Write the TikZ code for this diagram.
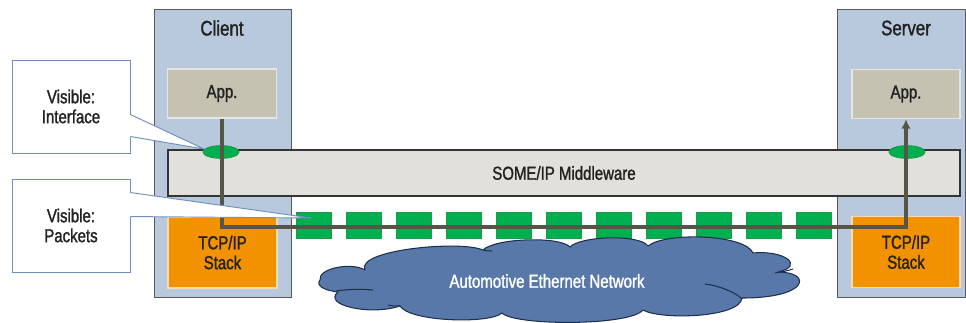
\documentclass[tikz,border=0pt]{standalone}
\usepackage{fontspec}
\setmainfont{Liberation Sans}[FakeStretch=0.8, FakeBold=1.4]
\usepackage{tikz}
\usetikzlibrary{arrows.meta, positioning, shapes.geometric, shadows, calc}

\definecolor{colfill}{HTML}{B8C9DD}
\definecolor{appfill}{HTML}{C5C2B2}
\definecolor{mwfill}{HTML}{E2E0DA}
\definecolor{tcpfill}{HTML}{F39200}
\definecolor{pktgreen}{HTML}{00B050}
\definecolor{pktedge}{HTML}{1E9A45}
\definecolor{netfill}{HTML}{5878AA}
\definecolor{netedge}{HTML}{1F2F4A}
\definecolor{flowline}{HTML}{565647}
\definecolor{calledge}{HTML}{6F8FBF}
\definecolor{txt}{HTML}{222222}

\begin{document}
\begin{tikzpicture}[
  x=0.03cm, y=-0.03cm,
  every node/.style={text=txt, font=\fontsize{16}{17}\selectfont, align=center},
  column/.style={draw=black!65, line width=0.8pt, fill=colfill, minimum height=8.64cm},
  appbox/.style={draw=white!90!black, line width=1.2pt, fill=appfill,
                 minimum width=3.27cm, minimum height=1.47cm},
  stackbox/.style={draw=orange!30, line width=1.2pt, fill=tcpfill,
                   minimum width=3.27cm, minimum height=2.13cm},
  port/.style={ellipse, draw=pktedge, line width=0.8pt, fill=pktgreen,
               minimum width=1.08cm, minimum height=0.38cm, inner sep=0pt},
  packet/.style={draw=pktedge, line width=0.6pt, fill=pktgreen,
                 minimum width=1.05cm, minimum height=0.78cm, inner sep=0pt},
  callbox/.style={draw=calledge, line width=0.8pt, fill=white,
                  minimum width=3.54cm, minimum height=2.79cm,
                  drop shadow={shadow xshift=1.2pt, shadow yshift=-1.2pt, opacity=0.25}},
  pointer/.style={draw=calledge, line width=0.8pt, line join=miter},
  puffline/.style={draw=netedge, line width=0.9pt}
]
  \useasboundingbox (0,0) rectangle (966,322);

  % client and server columns
  \node[column, minimum width=4.11cm] (client) at (222.5,153) {};
  \node[column, minimum width=3.84cm] (server) at (901.5,153) {};
  \node[font=\fontsize{18}{20}\selectfont] (clientlbl) at (222,28) {Client};
  \node[font=\fontsize{18}{20}\selectfont] (serverlbl) at (906,28) {Server};

  % application and stack layers
  \node[appbox] (capp) at (222,93.5) {App.};
  \node[appbox, minimum width=3.24cm] (sapp) at (906,94) {App.};
  \node[stackbox] (ctcp) at (222.5,252.5) {TCP/IP\\Stack};
  \node[stackbox, minimum width=3.24cm] (stcp) at (906,252) {TCP/IP\\Stack};

  % middleware spanning both ends
  \node[draw=black!80, line width=1pt, fill=mwfill,
        minimum width=23.76cm, minimum height=1.38cm] (mw) at (564,173) {SOME/IP Middleware};
  \node[port] (cport) at (221,152) {};
  \node[port] (sport) at (907,152) {};

  % packets on the wire
  \foreach \i in {0,...,10}
    \node[packet] (pkt\i) at (313.5+50*\i,225) {};

  % network cloud, puff by puff
  \filldraw[puffline, fill=netfill, line join=round]
    (320,280) .. controls (318,268) and (352,262) .. (365,270)
    .. controls (355,250) and (460,240) .. (483,250)
    .. controls (495,238) and (560,236) .. (570,247)
    .. controls (580,236) and (640,234) .. (648,246)
    .. controls (665,232) and (745,234) .. (753,253)
    .. controls (785,250) and (805,266) .. (778,272)
    .. controls (812,272) and (810,298) .. (742,298)
    .. controls (740,318) and (660,320) .. (643,310)
    .. controls (630,326) and (515,326) .. (502,313)
    .. controls (490,324) and (410,322) .. (400,306)
    .. controls (370,316) and (322,305) .. (338,292)
    .. controls (322,290) and (316,285) .. (320,280) -- cycle;
  \draw[puffline] (336,291) .. controls (350,289) and (362,289) .. (373,290);
  \draw[puffline] (388,305) .. controls (392,306) and (396,306) .. (400,306);
  \draw[puffline] (705,284) .. controls (720,286) and (735,292) .. (742,299);
  \draw[puffline] (775,273) .. controls (781,272) and (787,271) .. (793,269);
  \draw[puffline] (483,250) .. controls (486,251) and (489,251) .. (492,251);
  \node[text=white] (netlbl) at (547,281) {Automotive Ethernet Network};

  % data path from client app to server app
  \coordinate (lane) at (564,227);
  \draw[flowline, line width=2.6pt, -{Latex[length=8pt,width=8pt]}]
    (capp.south) |- (lane) -| (sapp.south);

  % callouts
  \node[callbox] (ifc) at (71,106.5) {Visible:\\Interface};
  \coordinate (ifctip) at (204,149);
  \fill[white] ($(ifc.north east)+(-1,55)$) -- (ifctip) -- ($(ifc.north east)+(-1,77)$) -- cycle;
  \draw[pointer] ($(ifc.north east)+(0,55)$) -- (ifctip) -- ($(ifc.north east)+(0,77)$);

  \node[callbox] (pkv) at (71,225.5) {Visible:\\Packets};
  \coordinate (pkvtip) at (311,218);
  \fill[white] ($(pkv.north east)+(-1,14)$) -- (pkvtip) -- ($(pkv.north east)+(-1,38)$) -- cycle;
  \draw[pointer] ($(pkv.north east)+(0,14)$) -- (pkvtip) -- ($(pkv.north east)+(0,38)$);
\end{tikzpicture}
\end{document}
